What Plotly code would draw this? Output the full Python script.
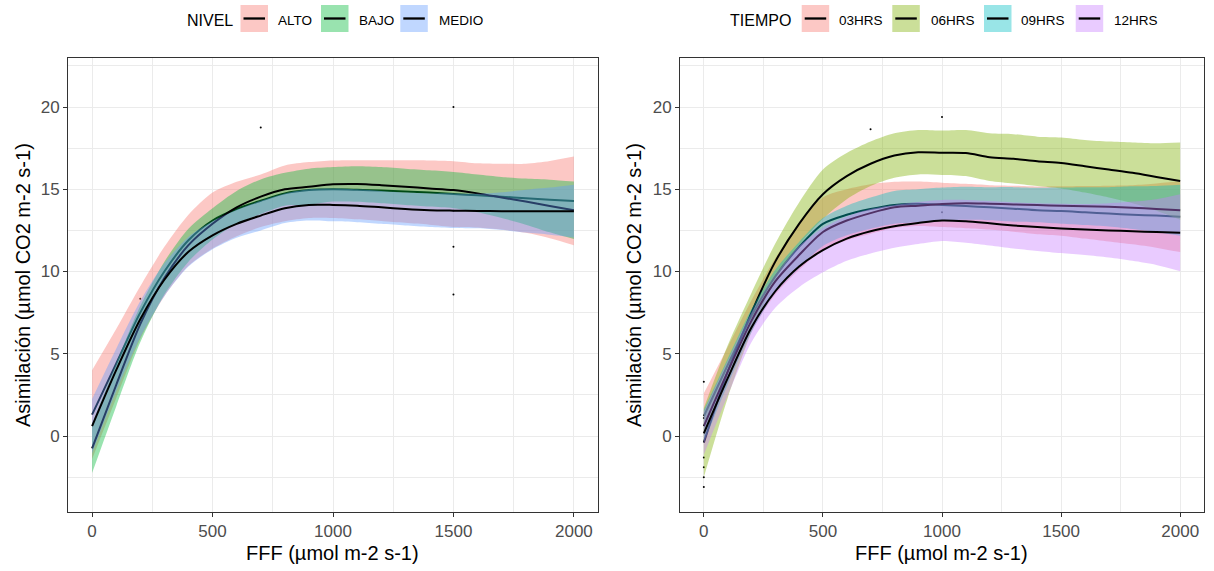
import plotly.graph_objects as go

W, H = 1214, 571
FONT = "Liberation Sans, Arial, sans-serif"

# ---------------- data ----------------
FFF = [0, 100, 200, 300, 400, 500, 600, 700, 800, 900, 1000,
       1100, 1200, 1300, 1400, 1500, 1600, 1700, 1800, 1900, 2000]

# Left panel: NIVEL (fitted curve and half-width of the confidence band)
ALTO_fit = [1.3, 4.4, 7.5, 10.0, 11.9, 13.1, 13.8, 14.3, 14.75, 14.95, 15.0,
            14.97, 14.92, 14.86, 14.8, 14.71, 14.63, 14.55, 14.45, 14.37, 14.29]
ALTO_se = [2.7, 2.1, 1.6, 1.5, 1.55, 1.7, 1.65, 1.6, 1.7, 1.7, 1.75,
           1.8, 1.85, 1.9, 1.95, 2.0, 1.95, 2.0, 2.1, 2.35, 2.7]
BAJO_fit = [-0.75, 3.1, 6.8, 9.6, 11.6, 12.9, 13.9, 14.55, 15.0, 15.15, 15.3,
            15.32, 15.25, 15.15, 15.05, 14.95, 14.75, 14.5, 14.25, 13.98, 13.72]
BAJO_se = [1.5, 1.3, 1.1, 1.0, 1.0, 0.95, 1.0, 1.05, 1.0, 1.1, 1.05,
           1.08, 1.1, 1.1, 1.1, 1.1, 1.15, 1.25, 1.4, 1.6, 1.75]
MEDIO_fit = [0.6, 4.0, 7.1, 9.5, 11.2, 12.2, 12.9, 13.4, 13.85, 14.05, 14.05,
             14.0, 13.9, 13.8, 13.73, 13.7, 13.68, 13.67, 13.67, 13.67, 13.67]
MEDIO_se = [1.65, 1.3, 1.1, 1.0, 0.9, 0.85, 0.85, 0.9, 0.9, 0.95, 1.0,
            1.0, 1.0, 1.0, 1.02, 1.05, 1.05, 1.15, 1.3, 1.43, 1.6]

# Right panel: TIEMPO
H03_fit = [1.2, 4.3, 7.3, 9.7, 11.5, 12.9, 13.45, 13.8, 14.05, 14.12, 14.05,
           13.98, 13.9, 13.82, 13.72, 13.68, 13.6, 13.52, 13.45, 13.4, 13.33]
H03_se = [1.4, 1.1, 0.95, 1.1, 1.4, 1.6, 1.55, 1.5, 1.4, 1.35, 1.35,
          1.35, 1.35, 1.4, 1.45, 1.5, 1.6, 1.7, 1.8, 1.95, 2.15]
H06_fit = [-0.4, 3.9, 7.5, 10.6, 12.9, 14.7, 15.8, 16.55, 17.05, 17.25, 17.22,
           17.2, 16.95, 16.85, 16.7, 16.6, 16.4, 16.2, 16.0, 15.75, 15.5]
H06_se = [2.1, 1.6, 1.2, 1.1, 1.3, 1.5, 1.4, 1.35, 1.35, 1.35, 1.35,
          1.4, 1.45, 1.5, 1.5, 1.55, 1.6, 1.7, 1.85, 2.05, 2.35]
H09_fit = [0.6, 3.9, 7.0, 9.4, 11.0, 12.4, 13.1, 13.55, 13.9, 14.0, 14.1,
           14.15, 14.12, 14.08, 14.04, 14.0, 13.97, 13.93, 13.88, 13.8, 13.72]
H09_se = [1.0, 0.8, 0.7, 0.7, 0.8, 0.85, 0.9, 0.95, 1.0, 1.0, 1.0,
          1.0, 1.0, 1.05, 1.05, 1.1, 1.15, 1.2, 1.3, 1.4, 1.55]
H12_fit = [0.16, 3.5, 6.6, 8.8, 10.3, 11.3, 12.0, 12.45, 12.75, 12.95, 13.1,
           13.05, 12.93, 12.8, 12.7, 12.62, 12.55, 12.5, 12.45, 12.4, 12.36]
H12_se = [1.3, 1.05, 0.9, 1.0, 1.25, 1.35, 1.35, 1.35, 1.3, 1.28, 1.25,
          1.3, 1.35, 1.4, 1.45, 1.5, 1.55, 1.65, 1.8, 2.0, 2.34]

# raw observations visible as tiny dots
LEFT_PTS_X = [200, 700, 1500, 1500, 1500, 1500]
LEFT_PTS_Y = [8.35, 18.75, 20.0, 13.7, 11.5, 8.6]
RIGHT_PTS_X = [0, 0, 0, 0, 0, 0, 700, 1000, 1000]
RIGHT_PTS_Y = [3.3, 1.1, -1.3, -1.9, -2.5, -3.1, 18.65, 19.4, 13.6]

NIVEL = ["ALTO", "BAJO", "MEDIO"]
TIEMPO = ["03HRS", "06HRS", "09HRS", "12HRS"]
LEFT_SERIES = [(ALTO_fit, ALTO_se), (BAJO_fit, BAJO_se), (MEDIO_fit, MEDIO_se)]
RIGHT_SERIES = [(H03_fit, H03_se), (H06_fit, H06_se), (H09_fit, H09_se), (H12_fit, H12_se)]
LEFT_COLORS = [(248, 118, 109), (0, 186, 56), (97, 156, 255)]
RIGHT_COLORS = [(248, 118, 109), (124, 174, 0), (0, 191, 196), (199, 124, 255)]
ALPHA = 0.4

fig = go.Figure()


def add_smooth(fit, se, rgb, xa, ya):
    lo = [f - s for f, s in zip(fit, se)]
    hi = [f + s for f, s in zip(fit, se)]
    fc = "rgba(%d,%d,%d,%.2f)" % (rgb[0], rgb[1], rgb[2], ALPHA)
    fig.add_trace(go.Scatter(x=FFF, y=lo, mode="lines", line=dict(width=0, shape="spline", smoothing=0.8),
                             showlegend=False, hoverinfo="skip", xaxis=xa, yaxis=ya))
    fig.add_trace(go.Scatter(x=FFF, y=hi, mode="lines", line=dict(width=0, shape="spline", smoothing=0.8),
                             fill="tonexty", fillcolor=fc, showlegend=False, hoverinfo="skip",
                             xaxis=xa, yaxis=ya))
    fig.add_trace(go.Scatter(x=FFF, y=fit, mode="lines",
                             line=dict(color="black", width=2, shape="spline", smoothing=0.8),
                             showlegend=False, xaxis=xa, yaxis=ya))


fig.add_trace(go.Scatter(x=LEFT_PTS_X, y=LEFT_PTS_Y, mode="markers",
                         marker=dict(size=2, color="black"), showlegend=False, xaxis="x", yaxis="y"))
fig.add_trace(go.Scatter(x=RIGHT_PTS_X, y=RIGHT_PTS_Y, mode="markers",
                         marker=dict(size=2, color="black"), showlegend=False, xaxis="x2", yaxis="y2"))

for (fit, se), rgb in zip(LEFT_SERIES, LEFT_COLORS):
    add_smooth(fit, se, rgb, "x", "y")
for (fit, se), rgb in zip(RIGHT_SERIES, RIGHT_COLORS):
    add_smooth(fit, se, rgb, "x2", "y2")

# ---------------- layout ----------------
PANEL_TOP, PANEL_BOT = 58, 512
LEFT_X0, LEFT_X1 = 68, 598
RIGHT_X0, RIGHT_X1 = 680, 1204


def px(v):
    return v / W


def py(v):
    return 1 - v / H


tickfont = dict(family=FONT, size=17, color="#4D4D4D")
common_x = dict(range=[-100, 2100], tick0=0, dtick=500, showgrid=True, gridcolor="#EBEBEB", gridwidth=1,
                minor=dict(dtick=250, showgrid=True, gridcolor="#EBEBEB", gridwidth=0.5),
                zeroline=False, showline=True, mirror=True, linecolor="#333333", linewidth=1,
                ticks="outside", ticklen=4, tickcolor="#333333", tickwidth=1, tickfont=tickfont,
                automargin=False)
common_y = dict(range=[-4.62, 22.98], tick0=0, dtick=5, showgrid=True, gridcolor="#EBEBEB", gridwidth=1,
                minor=dict(dtick=2.5, showgrid=True, gridcolor="#EBEBEB", gridwidth=0.5),
                zeroline=False, showline=True, mirror=True, linecolor="#333333", linewidth=1,
                ticks="outside", ticklen=4, tickcolor="#333333", tickwidth=1, tickfont=tickfont,
                automargin=False, domain=[py(PANEL_BOT), py(PANEL_TOP)])

fig.update_layout(
    width=W, height=H, margin=dict(l=0, r=0, t=0, b=0),
    paper_bgcolor="white", plot_bgcolor="white",
    font=dict(family=FONT, color="black"),
    showlegend=False,
    xaxis=dict(domain=[px(LEFT_X0), px(LEFT_X1)], anchor="y", **common_x),
    yaxis=dict(anchor="x", **common_y),
    xaxis2=dict(domain=[px(RIGHT_X0), px(RIGHT_X1)], anchor="y2", **common_x),
    yaxis2=dict(anchor="x2", **common_y),
)

annotations = []
shapes = []
XTITLE = "FFF (µmol m-2 s-1)"
YTITLE = "Asimilación (µmol CO2 m-2 s-1)"
for cx in [(LEFT_X0 + LEFT_X1) / 2, (RIGHT_X0 + RIGHT_X1) / 2]:
    annotations.append(dict(text=XTITLE, x=px(cx), y=py(553), xref="paper", yref="paper",
                            xanchor="center", yanchor="middle", showarrow=False,
                            font=dict(family=FONT, size=20, color="black")))
for cx in [23, 634]:
    annotations.append(dict(text=YTITLE, x=px(cx), y=py((PANEL_TOP + PANEL_BOT) / 2), xref="paper",
                            yref="paper", xanchor="center", yanchor="middle", textangle=-90,
                            showarrow=False, font=dict(family=FONT, size=20, color="black")))

# custom legends (ggplot style: filled key with a black line)
KEY_Y0, KEY_Y1, TEXT_Y = 5, 32, 20.5


def legend(title, title_x, labels, key_x, label_x, colors):
    annotations.append(dict(text=title, x=px(title_x), y=py(TEXT_Y), xref="paper", yref="paper",
                            xanchor="left", yanchor="middle", showarrow=False,
                            font=dict(family=FONT, size=16, color="black")))
    for lab, kx, lx, rgb in zip(labels, key_x, label_x, colors):
        fc = "rgba(%d,%d,%d,%.2f)" % (rgb[0], rgb[1], rgb[2], ALPHA)
        shapes.append(dict(type="rect", xref="paper", yref="paper", x0=px(kx), x1=px(kx + 27.5),
                           y0=py(KEY_Y1), y1=py(KEY_Y0), fillcolor=fc, line=dict(width=0)))
        shapes.append(dict(type="line", xref="paper", yref="paper", x0=px(kx + 3), x1=px(kx + 24.5),
                           y0=py((KEY_Y0 + KEY_Y1) / 2), y1=py((KEY_Y0 + KEY_Y1) / 2),
                           line=dict(color="black", width=2.3)))
        annotations.append(dict(text=lab, x=px(lx), y=py(TEXT_Y), xref="paper", yref="paper",
                                xanchor="left", yanchor="middle", showarrow=False,
                                font=dict(family=FONT, size=13.5, color="black")))


legend("NIVEL", 185, NIVEL, [240.5, 321, 400.3], [276, 356.7, 436.7], LEFT_COLORS)
legend("TIEMPO", 728.3, TIEMPO, [801.7, 892.3, 984, 1075.7], [836.7, 929.3, 1019.3, 1111.7], RIGHT_COLORS)

fig.update_layout(annotations=annotations, shapes=shapes)
fig.write_html("out.html")
